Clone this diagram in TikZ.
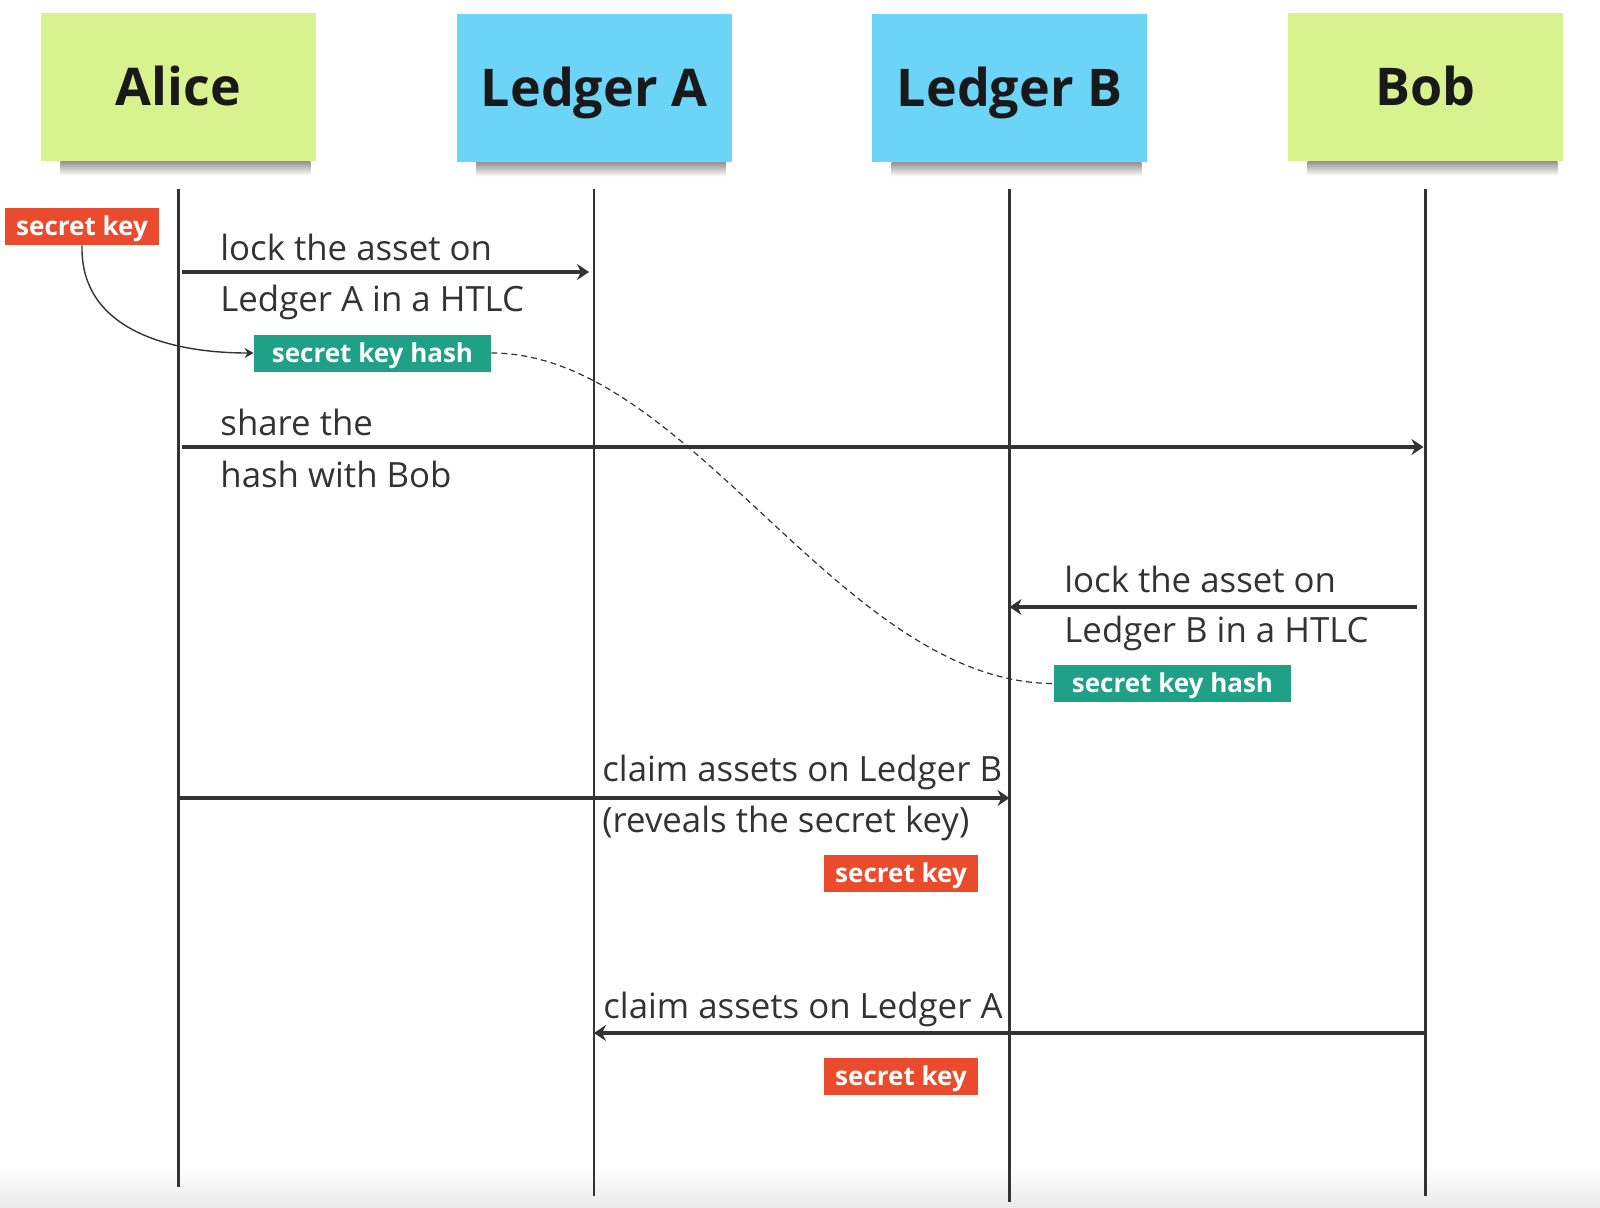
\documentclass[tikz,border=0pt]{standalone}
\usepackage{fontspec}
\setmainfont{Open Sans}
\usetikzlibrary{arrows.meta, positioning}
\usepackage{xcolor}

\definecolor{notegreen}{HTML}{D8F28E}
\definecolor{noteblue}{HTML}{6CD4F6}
\definecolor{keyred}{HTML}{E94B2C}
\definecolor{hashgreen}{HTML}{1FA087}
\definecolor{linegray}{HTML}{333333}

\begin{document}
\begin{tikzpicture}[x=0.5pt, y=-0.5pt,
  sticky/.style={minimum width=137.5pt, minimum height=74pt, inner sep=0pt,
    text=black!90, text height=18.6pt, text depth=0pt,
    font=\bfseries\fontsize{26}{31}\selectfont},
  actor/.style={sticky, fill=notegreen},
  ledger/.style={sticky, fill=noteblue},
  lifeline/.style={draw=linegray, line width=1.4pt},
  msg/.style={draw=linegray, line width=1.6pt, -{Stealth[length=6pt, width=8pt]}},
  msgtext/.style={anchor=west, inner sep=0pt, text=linegray, text height=12.4pt,
    text depth=0pt, font=\fontsize{17.4}{21}\selectfont},
  chip/.style={inner sep=0pt, minimum height=18.5pt, text=white,
    text height=9.3pt, text depth=0pt,
    font=\bfseries\fontsize{13}{16}\selectfont},
  keybox/.style={chip, fill=keyred, minimum width=77pt},
  hashbox/.style={chip, fill=hashgreen, minimum width=118.5pt}]
  \useasboundingbox (0,0) rectangle (1600,1207);

  % faint fade at the bottom edge
  \shade[top color=white, bottom color=black!8] (0,1165) rectangle (1600,1207);

  % sticky notes
  \node[actor]  (alice)   at (178.5,87)  {Alice};
  \node[ledger] (ledgerA) at (594,88)    {Ledger A};
  \node[ledger] (ledgerB) at (1009.5,88) {Ledger B};
  \node[actor]  (bob)     at (1425.5,87) {Bob};

  % soft shadow under each note
  \foreach \n in {alice, ledgerA, ledgerB, bob}
    \shade[top color=black!60, bottom color=white, opacity=0.7]
      ([xshift=10pt]\n.south west) rectangle ([xshift=-3pt, yshift=-7pt]\n.south east);

  % lifelines
  \foreach \n/\bot in {alice/1187, ledgerA/1196, ledgerB/1202, bob/1196}
    \draw[lifeline] (\n |- 0,189) -- (\n |- 0,\bot);

  % Alice locks on Ledger A
  \node[keybox] (key0) at (82,226.5) {secret key};
  \draw[msg, shorten <=1.5pt, shorten >=2.5pt] (alice |- 0,272) -- (ledgerA |- 0,272);
  \node[msgtext] (lockA1) at (220,248) {lock the asset on};
  \node[msgtext, below=12.5pt of lockA1.south west, anchor=north west] (lockA2) {Ledger A in a HTLC};
  \node[hashbox] (hash1) at (372.5,353) {secret key hash};
  \draw[linegray, line width=0.7pt, -{Stealth[length=4.5pt, width=5pt]}]
    (key0.south) .. controls (80,330) and (170,353) .. (hash1.west);

  % Alice shares the hash
  \draw[msg, shorten <=1.5pt, shorten >=1pt] (alice |- 0,447) -- (bob |- 0,447);
  \node[msgtext] (share1) at (220,423) {share the};
  \node[msgtext, below=13pt of share1.south west, anchor=north west] (share2) {hash with Bob};

  % Bob locks on Ledger B
  \draw[msg, shorten <=4.5pt] (bob |- 0,607) -- (ledgerB |- 0,607);
  \node[msgtext] (lockB1) at (1064,580) {lock the asset on};
  \node[msgtext, below=12pt of lockB1.south west, anchor=north west] (lockB2) {Ledger B in a HTLC};
  \node[hashbox] (hash2) at (1172.5,683.5) {secret key hash};
  \draw[linegray, line width=0.6pt, dash pattern=on 3pt off 2pt]
    (hash1.east) .. controls (690,353) and (840,683) .. (hash2.west);

  % Alice claims on Ledger B
  \draw[msg] (alice |- 0,798) -- (ledgerB |- 0,798);
  \node[msgtext] (claimB1) at (602,769) {claim assets on Ledger B};
  \node[msgtext, below=12.5pt of claimB1.south west, anchor=north west] (claimB2) {(reveals the secret key)};
  \node[keybox] (key1) at (901,873) {secret key};

  % Bob claims on Ledger A
  \draw[msg] (bob |- 0,1033) -- (ledgerA |- 0,1033);
  \node[msgtext] (claimA) at (603,1006) {claim assets on Ledger A};
  \node[keybox] (key2) at (901,1076) {secret key};
\end{tikzpicture}
\end{document}
